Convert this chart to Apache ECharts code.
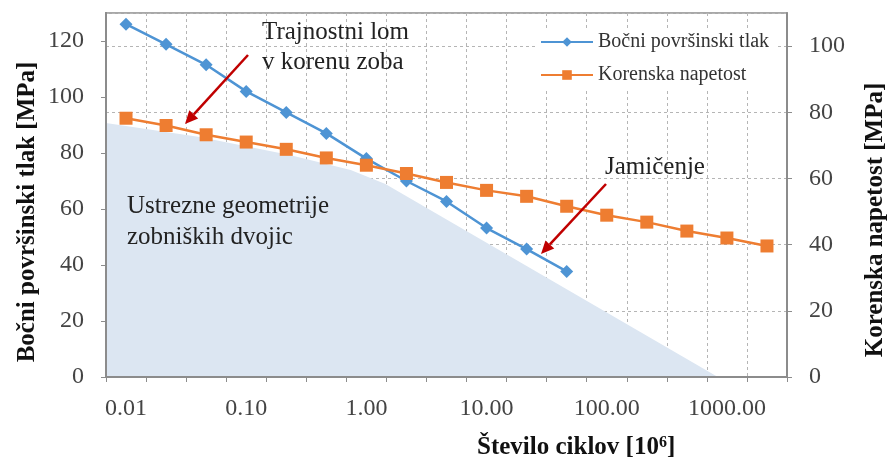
<!DOCTYPE html>
<html>
<head>
<meta charset="utf-8">
<script src="https://cdn.jsdelivr.net/npm/echarts@6/dist/echarts.min.js"></script>
<style>
html, body { margin: 0; padding: 0; background: #fff; }
#main { width: 888px; height: 466px; }
</style>
</head>
<body>
<div id="main"></div>
<script>
// število ciklov [10^6] - kategorije (tretjine dekade)
var cycles = ['0.01', '0.02', '0.05', '0.10', '0.22', '0.46', '1.00', '2.15', '4.64',
  '10.00', '21.54', '46.42', '100.00', '215.44', '464.16', '1000.00', '2154.43'];
// oznake na x osi
var xTickLabels = ['0.01', '0.10', '1.00', '10.00', '100.00', '1000.00'];
// bočni površinski tlak [MPa] (leva os)
var bocniTlak = [126, 118.8, 111.5, 102, 94.5, 87, 78, 70, 62.7, 53.2, 45.7, 37.7];
// korenska napetost [MPa] (desna os)
var korenskaNapetost = [78.2, 76, 73.2, 71, 68.8, 66.2, 64, 61.5, 58.8, 56.4, 54.6,
  51.6, 48.9, 46.8, 44.1, 42, 39.6];
// območje ustreznih geometrij (x v 10^6 ciklih, y v MPa leve osi)
var regionCycles = [0.0068, 0.041, 0.23, 0.74, 1.44, 841];
var regionTlak = [90.7, 85.7, 79.3, 73.9, 68.9, 0];

var serif = 'Liberation Serif';
var axisGray = '#8c8c8c';
var gridDash = { color: '#b5b5b5', type: [3, 3], width: 1 };
var titleStyle = { fontFamily: serif, fontSize: 25, fontWeight: 'bold', fill: '#111' };

// puščica (črta + konica)
function arrow (x1, y1, x2, y2) {
  var ang = Math.atan2(y2 - y1, x2 - x1);
  var len = 13, half = 6;
  var bx = x2 - len * Math.cos(ang), by = y2 - len * Math.sin(ang);
  var px = -Math.sin(ang) * half, py = Math.cos(ang) * half;
  return [
    { type: 'line', z: 100, shape: { x1: x1, y1: y1, x2: bx, y2: by },
      style: { stroke: '#c00000', lineWidth: 2.5 } },
    { type: 'polygon', z: 100, shape: { points: [[x2, y2], [bx + px, by + py], [bx - px, by - py]] },
      style: { fill: '#c00000' } }
  ];
}

var myChart = echarts.init(document.getElementById('main'));

myChart.setOption({
  animation: false,
  backgroundColor: '#fff',
  grid: {
    left: 106, top: 13, right: 101, bottom: 89,
    outerBoundsMode: 'none',
    show: true, borderColor: axisGray, borderWidth: 1.5, backgroundColor: '#fff'
  },
  legend: {
    orient: 'vertical',
    left: 536, top: 29,
    itemWidth: 52, itemHeight: 12, itemGap: 13,
    backgroundColor: '#fff',
    padding: [3, 6, 3, 4],
    textStyle: { fontFamily: serif, fontSize: 20, color: '#333' },
    data: ['Bočni površinski tlak', 'Korenska napetost']
  },
  xAxis: [
    {
      type: 'category',
      data: cycles,
      boundaryGap: true,
      axisLine: { lineStyle: { color: axisGray, width: 2 } },
      axisTick: { show: true, interval: 0, length: 5, lineStyle: { color: axisGray } },
      axisLabel: {
        interval: function (i, v) { return xTickLabels.indexOf(v) >= 0; },
        margin: 20,
        fontFamily: serif, fontSize: 24, color: '#444'
      },
      splitLine: { show: true, interval: 0, lineStyle: gridDash }
    },
    {
      // skrita log os za območje
      type: 'log',
      show: false,
      min: 0.01 * Math.pow(10, -0.5 / 3),
      max: 0.01 * Math.pow(10, 16.5 / 3)
    },
    {
      // samo črta osi nad območjem
      type: 'category',
      data: cycles,
      position: 'bottom',
      z: 10,
      axisLine: { lineStyle: { color: axisGray, width: 2 } },
      axisTick: { show: false },
      axisLabel: { show: false },
      splitLine: { show: false }
    }
  ],
  yAxis: [
    {
      type: 'value',
      min: 0, max: 130, interval: 20,
      axisLine: { show: true, lineStyle: { color: axisGray, width: 2 } },
      axisTick: { show: true, length: 5, lineStyle: { color: axisGray } },
      axisLabel: { showMaxLabel: false, margin: 22, fontFamily: serif, fontSize: 24, color: '#444' },
      splitLine: { show: false }
    },
    {
      type: 'value',
      min: 0, max: 110, interval: 20,
      position: 'right',
      axisLine: { show: true, lineStyle: { color: axisGray, width: 2 } },
      axisTick: { show: true, length: 5, lineStyle: { color: axisGray } },
      axisLabel: { showMaxLabel: false, margin: 22, fontFamily: serif, fontSize: 24, color: '#444' },
      splitLine: { show: true, lineStyle: gridDash }
    },
    {
      // samo črta leve osi nad območjem
      type: 'value',
      min: 0, max: 130,
      position: 'left',
      z: 10,
      axisLine: { show: true, lineStyle: { color: axisGray, width: 2 } },
      axisTick: { show: false },
      axisLabel: { show: false },
      splitLine: { show: false }
    }
  ],
  graphic: [
    {
      type: 'text', x: 28, y: 212, rotation: Math.PI / 2,
      style: Object.assign({ text: 'Bočni površinski tlak [MPa]', align: 'center', verticalAlign: 'middle' }, titleStyle)
    },
    {
      type: 'text', x: 876, y: 220, rotation: Math.PI / 2,
      style: Object.assign({ text: 'Korenska napetost [MPa]', align: 'center', verticalAlign: 'middle' }, titleStyle)
    },
    {
      type: 'text', left: 477, top: 435,
      style: Object.assign({
        text: 'Število ciklov [10{sup|6}]',
        rich: { sup: { fontFamily: serif, fontSize: 16, fontWeight: 'bold', fill: '#111', verticalAlign: 'top', padding: [0, 0, 9, 0] } }
      }, titleStyle)
    },
    {
      type: 'text', left: 262, top: 17, z: 100,
      style: { text: 'Trajnostni lom\nv korenu zoba', fontFamily: serif, fontSize: 25, lineHeight: 30, fill: '#222' }
    },
    {
      type: 'text', left: 605, top: 152, z: 100,
      style: { text: 'Jamičenje', fontFamily: serif, fontSize: 25, lineHeight: 30, fill: '#222' }
    },
    {
      type: 'text', left: 127, top: 191, z: 100,
      style: { text: 'Ustrezne geometrije\nzobniških dvojic', fontFamily: serif, fontSize: 25, lineHeight: 31, fill: '#222' }
    }
  ].concat(arrow(248, 55, 185, 124), arrow(606, 184, 541, 254)),
  series: [
    {
      name: 'Območje',
      type: 'line',
      xAxisIndex: 1,
      yAxisIndex: 0,
      data: regionCycles.map(function (c, i) { return [c, regionTlak[i]]; }),
      symbol: 'none',
      lineStyle: { width: 0 },
      areaStyle: { color: '#dce6f2', opacity: 1 },
      z: 1,
      silent: true
    },
    {
      name: 'Bočni površinski tlak',
      type: 'line',
      xAxisIndex: 0,
      yAxisIndex: 0,
      data: bocniTlak,
      symbol: 'diamond',
      symbolSize: 13,
      itemStyle: { color: '#4e94d4' },
      lineStyle: { color: '#4e94d4', width: 2.5 },
      z: 3
    },
    {
      name: 'Korenska napetost',
      type: 'line',
      xAxisIndex: 0,
      yAxisIndex: 1,
      data: korenskaNapetost,
      symbol: 'rect',
      symbolSize: 13,
      itemStyle: { color: '#ee7d31' },
      lineStyle: { color: '#ee7d31', width: 2.5 },
      z: 4
    }
  ]
});
</script>
</body>
</html>
